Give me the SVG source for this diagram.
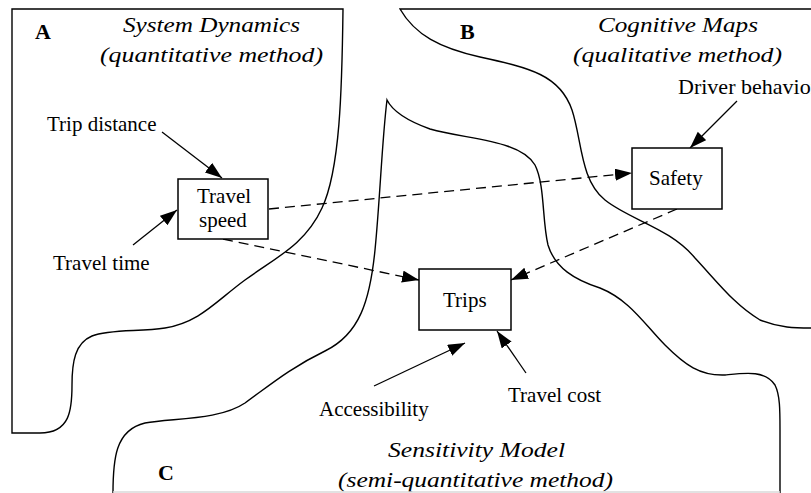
<svg xmlns="http://www.w3.org/2000/svg" width="811" height="493" viewBox="0 0 811 493">
<style>
.region{fill:none;stroke:#000;stroke-width:1.4}
.box{fill:#fff;stroke:#000;stroke-width:1.5}
.lbl{font-family:"Times New Roman","Liberation Serif",Times,serif;font-size:21px;fill:#000}
.ttl{font-family:"Times New Roman","Liberation Serif",Times,serif;font-size:22px;font-style:italic;fill:#000}
.let{font-family:"Times New Roman","Liberation Serif",Times,serif;font-size:22px;font-weight:bold;fill:#000}
.solid{fill:none;stroke:#000;stroke-width:1.3;marker-end:url(#ah)}
.dash{fill:none;stroke:#000;stroke-width:1.3;stroke-dasharray:10,6;marker-end:url(#ah)}
</style>
<defs>
<marker id="ah" markerUnits="userSpaceOnUse" markerWidth="18" markerHeight="13" refX="17" refY="6" orient="auto">
<path d="M0,0 L17,6 L0,12 Z" fill="#000" stroke="none"/>
</marker>
</defs>
<rect x="0" y="0" width="811" height="493" fill="#fff"/>

<g id="regionA">
<path class="region" d="M12,9 H343 C342,90 340,170 322,208 C305,245 275,258 245,280 C215,302 200,322 165,328 C140,332 110,329 92,336 C75,343 72,362 72,385 C72,410 70,433 40,433 L12,433 Z"/>
<text class="let" x="35" y="39">A</text>
<text class="ttl" x="123" y="32" textLength="177" lengthAdjust="spacingAndGlyphs">System Dynamics</text>
<text class="ttl" x="100" y="62" textLength="223" lengthAdjust="spacingAndGlyphs">(quantitative method)</text>
</g>

<g id="regionB">
<path class="region" d="M811,9 H400 C415,35 440,48 480,57 C530,68 560,75 572,110 C582,140 580,180 605,200 C630,220 670,228 695,258 C720,285 735,305 760,320 C780,328 795,328 811,328"/>
<text class="let" x="460" y="39">B</text>
<text class="ttl" x="598" y="32" textLength="160" lengthAdjust="spacingAndGlyphs">Cognitive Maps</text>
<text class="ttl" x="573" y="62" textLength="209" lengthAdjust="spacingAndGlyphs">(qualitative method)</text>
</g>

<g id="regionC">
<path class="region" d="M113,493 C113,460 115,430 145,423 C175,418 220,420 245,403 C270,385 290,368 325,351 C360,334 370,300 375,250 C380,200 382,140 387,100 C392,110 405,120 430,129 C470,140 520,140 535,165 C545,185 542,220 548,245 C555,268 575,280 600,288 C630,300 645,325 665,345 C685,365 700,376 725,375 C745,373 765,370 775,385 C780,395 780,410 780,430 L780,493"/>
<text class="let" x="158" y="480">C</text>
<text class="ttl" x="388" y="457" textLength="177" lengthAdjust="spacingAndGlyphs">Sensitivity Model</text>
<text class="ttl" x="338" y="487" textLength="275" lengthAdjust="spacingAndGlyphs">(semi-quantitative method)</text>
<line x1="113" y1="492" x2="780" y2="492" stroke="#d9d9d9" stroke-width="1.5"/>
</g>

<g id="connectors">
<line class="solid" x1="162" y1="132" x2="222" y2="178"/>
<line class="solid" x1="133" y1="245" x2="177" y2="210"/>
<line class="solid" x1="737" y1="101" x2="690" y2="148"/>
<line class="solid" x1="374" y1="386" x2="465" y2="343"/>
<line class="solid" x1="526" y1="373" x2="497" y2="331"/>
<line class="dash" x1="269" y1="209" x2="632" y2="173"/>
<line class="dash" x1="223" y1="239" x2="419" y2="280"/>
<line class="dash" x1="677" y1="209" x2="511" y2="280"/>
</g>

<g id="travel-speed">
<rect class="box" x="178" y="179" width="90" height="60"/>
<text class="lbl" x="197" y="203">Travel</text>
<text class="lbl" x="199" y="227">speed</text>
</g>
<g id="safety">
<rect class="box" x="632" y="148" width="90" height="61"/>
<text class="lbl" x="649" y="185">Safety</text>
</g>
<g id="trips">
<rect class="box" x="419" y="269" width="92" height="61"/>
<text class="lbl" x="443" y="307">Trips</text>
</g>
<g id="trip-distance"><text class="lbl" x="47" y="131">Trip distance</text></g>
<g id="travel-time"><text class="lbl" x="53" y="270">Travel time</text></g>
<g id="driver-behavior"><text class="lbl" x="678" y="94" textLength="140" lengthAdjust="spacingAndGlyphs">Driver behavior</text></g>
<g id="accessibility"><text class="lbl" x="319" y="416">Accessibility</text></g>
<g id="travel-cost"><text class="lbl" x="508" y="402">Travel cost</text></g>
</svg>
